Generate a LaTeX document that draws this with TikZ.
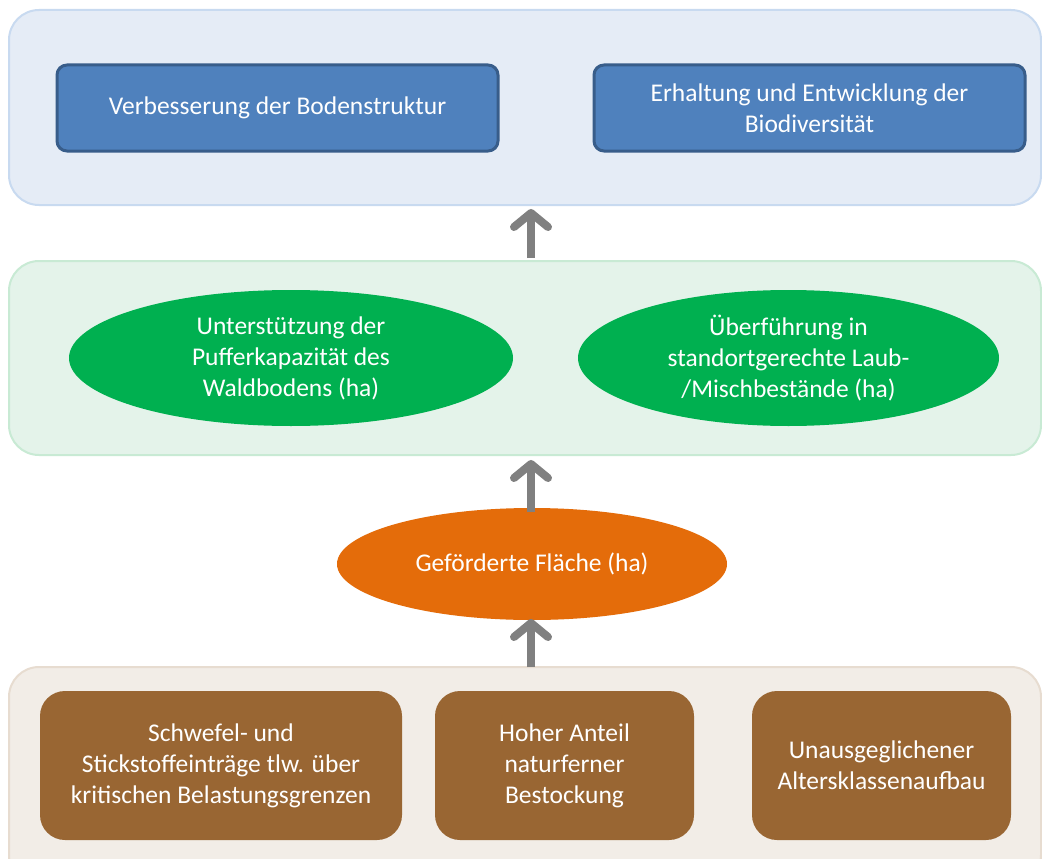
\documentclass[tikz,border=0pt]{standalone}
\usepackage{fontspec}
\setmainfont{Carlito}
\usetikzlibrary{arrows.meta,shapes.geometric}
\definecolor{toppanelfill}{RGB}{229,236,246}
\definecolor{toppaneldraw}{RGB}{200,218,240}
\definecolor{midpanelfill}{RGB}{228,243,234}
\definecolor{midpaneldraw}{RGB}{200,234,212}
\definecolor{botpanelfill}{RGB}{242,237,231}
\definecolor{botpaneldraw}{RGB}{231,220,208}
\definecolor{bluebox}{RGB}{79,129,189}
\definecolor{blueboxdraw}{RGB}{56,93,138}
\definecolor{greenell}{RGB}{0,176,80}
\definecolor{orangeell}{RGB}{228,108,10}
\definecolor{brownbox}{RGB}{153,102,51}
\definecolor{arrowgray}{RGB}{128,128,128}
\begin{document}
\begin{tikzpicture}[x=1pt,y=-1pt,
  panel/.style={rectangle, line width=2pt, rounded corners=30pt, inner sep=0pt},
  txt/.style={text=white, font=\fontsize{25.5}{31}\selectfont, align=center},
  bluerect/.style={txt, rectangle, fill=bluebox, draw=blueboxdraw, line width=3pt, rounded corners=10pt, minimum height=86pt},
  greenoval/.style={txt, ellipse, fill=greenell, inner sep=0pt, minimum height=136pt},
  orangeoval/.style={txt, ellipse, fill=orangeell, inner sep=0pt, minimum width=390pt, minimum height=112pt},
  brownrect/.style={txt, rectangle, fill=brownbox, rounded corners=25pt, minimum height=149pt},
  bigarrow/.style={draw=arrowgray, line width=8pt, -{Straight Barb[length=14pt,width=34pt,round]}}
]
\clip (0,0) rectangle (1042,859);
\fill[white] (0,0) rectangle (1042,859);

% panels
\node[panel, fill=toppanelfill, draw=toppaneldraw, minimum width=1032pt, minimum height=195pt] (toppanel) at (525,107.5) {};
\node[panel, fill=midpanelfill, draw=midpaneldraw, minimum width=1032pt, minimum height=194pt] (midpanel) at (525,358) {};
\node[panel, fill=botpanelfill, draw=botpaneldraw, minimum width=1032pt, minimum height=218pt] (botpanel) at (525,776) {};

% top boxes
\node[bluerect, minimum width=441pt] (boden) at (277.5,108) {Verbesserung der Bodenstruktur};
\node[bluerect, minimum width=431pt] (biodiv) at (809.5,108) {Erhaltung und Entwicklung der\\Biodiversität};

% green ellipses
\node[greenoval, minimum width=444pt] (puffer) at (291,358) {Unterstützung der\\Pufferkapazität des\\Waldbodens (ha)};
\node[greenoval, minimum width=421pt] (laub) at (788.5,358) {Überführung in\\standortgerechte Laub-\\/Mischbestände (ha)};

% orange ellipse
\node[orangeoval] (flaeche) at (532,564) {Geförderte Fläche (ha)};

% brown boxes
\node[brownrect, minimum width=362pt] (schwefel) at (221,765.5) {Schwefel- und\\Stickstoffeinträge tlw. über\\kritischen Belastungsgrenzen};
\node[brownrect, minimum width=259pt] (anteil) at (564.5,765.5) {Hoher Anteil\\naturferner\\Bestockung};
\node[brownrect, minimum width=259pt] (alter) at (881.5,765.5) {Unausgeglichener\\Altersklassenaufbau};

% arrows
\coordinate (a1s) at (531,258);
\coordinate (a1e) at (531,209);
\coordinate (a2s) at (531,512);
\coordinate (a2e) at (531,460);
\coordinate (a3s) at (531,667);
\coordinate (a3e) at (531,619);
\draw[bigarrow] (a1s) -- (a1e);
\draw[bigarrow] (a2s) -- (a2e);
\draw[bigarrow] (a3s) -- (a3e);
\end{tikzpicture}
\end{document}
